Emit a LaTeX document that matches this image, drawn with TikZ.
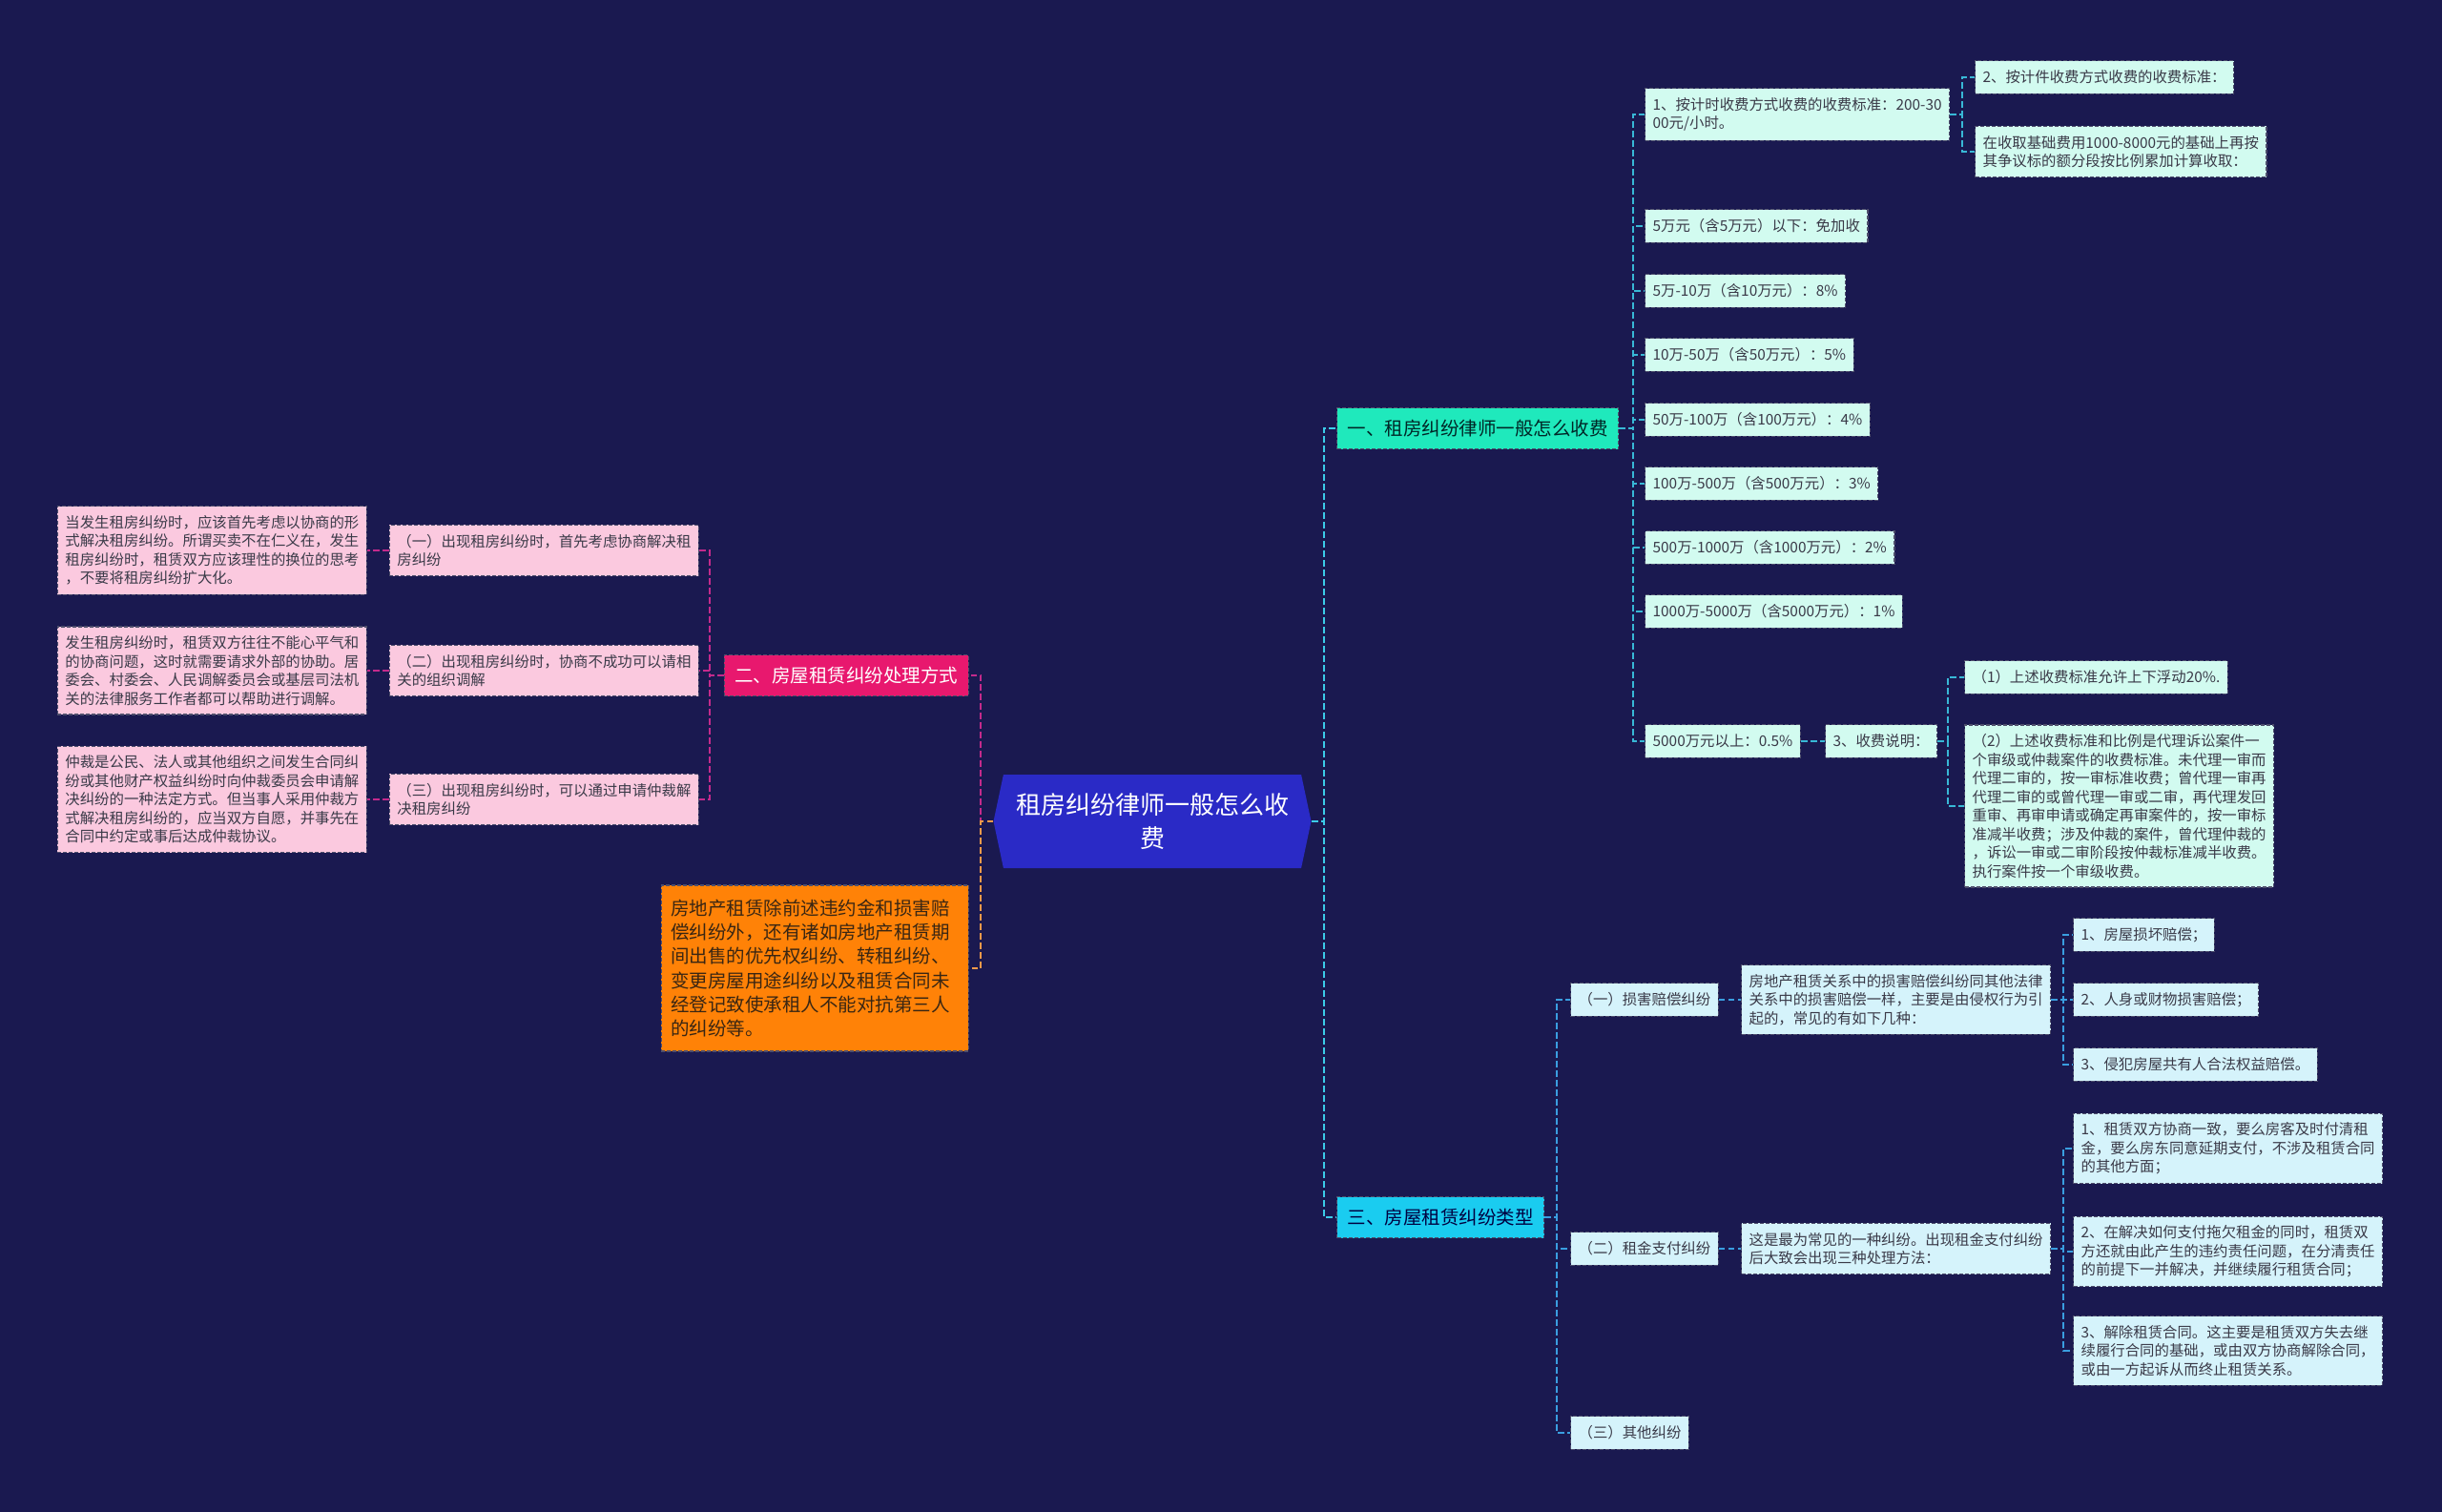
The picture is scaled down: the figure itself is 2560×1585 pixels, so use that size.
\documentclass[tikz,border=0pt]{standalone}
\usepackage{fontspec}
\newfontfamily\cjk{Noto Sans CJK SC}
\usetikzlibrary{shapes.symbols}

\definecolor{bgnavy}{HTML}{1A1950}
\definecolor{rootblue}{HTML}{2A2AC6}
\definecolor{feegreen}{HTML}{1FE9BC}
\definecolor{waypink}{HTML}{E8186E}
\definecolor{kindcyan}{HTML}{1ACCF0}
\definecolor{otherorange}{HTML}{FF8207}
\definecolor{mintfill}{HTML}{D2FBF0}
\definecolor{icefill}{HTML}{D5F3FB}
\definecolor{rosefill}{HTML}{FBC9DF}
\definecolor{leafedge}{HTML}{4E4E6C}
\definecolor{leaftext}{HTML}{3A3A48}
\definecolor{cyanlink}{HTML}{3CCBE8}
\definecolor{teallink}{HTML}{38B8D6}
\definecolor{bluelink}{HTML}{3A9EE0}
\definecolor{pinklink}{HTML}{C42A8C}
\definecolor{orangelink}{HTML}{F59A4A}

\begin{document}
\begin{tikzpicture}[x=0.5pt,y=-0.5pt,
    box/.style={draw=leafedge, dash pattern=on 2pt off 1pt, line width=0.6pt, align=left},
    leaf/.style={box, text=leaftext, font=\cjk\fontsize{7.7}{9.75}\selectfont,
      inner xsep=4pt, inner ysep=4.8pt, minimum height=17.25pt},
    mintleaf/.style={leaf, fill=mintfill, anchor=west},
    iceleaf/.style={leaf, fill=icefill, anchor=west},
    roseleaf/.style={leaf, fill=rosefill, anchor=east},
    branch/.style={box, font=\cjk\fontsize{9.75}{12}\selectfont,
      inner xsep=5.5pt, minimum height=21.5pt},
    link/.style={line width=1.1pt, dash pattern=on 3.3pt off 1.7pt}]

    % Background and page size
    \fill[bgnavy] (0,0) rectangle (2560,1585);

    % Central topic
    \node[shape=signal, signal to=west and east, signal pointer angle=156,
      fill=rootblue, text=white, align=center, minimum width=166.5pt, minimum height=49pt,
      font=\cjk\fontsize{13}{17.5}\selectfont] (root) at (1208,861)
      {租房纠纷律师一般怎么收\\费};

    % Main branches
    \node[branch, fill=feegreen, text=black!70!teal, anchor=west] (fees) at (1401,449) {一、租房纠纷律师一般怎么收费};
    \node[branch, fill=waypink, text=white, anchor=east] (ways) at (1016,708) {二、房屋租赁纠纷处理方式};
    \node[branch, fill=kindcyan, text=black!75!blue, anchor=west] (kinds) at (1401,1276) {三、房屋租赁纠纷类型};
    \node[box, fill=otherorange, text=black!70!brown, anchor=east, text width=151pt,
      inner xsep=5pt, inner ysep=7.5pt,
      font=\cjk\fontsize{9.75}{12.6}\selectfont] (other) at (1016,1015)
      {房地产租赁除前述违约金和损害赔\\偿纠纷外，还有诸如房地产租赁期\\间出售的优先权纠纷、转租纠纷、\\变更房屋用途纠纷以及租赁合同未\\经登记致使承租人不能对抗第三人\\的纠纷等。};

    % Fee levels
    \node[mintleaf] (fee1) at (1724,120) {1、按计时收费方式收费的收费标准：200-30\\00元/小时。};
    \node[mintleaf] (fee2) at (1724,237) {5万元（含5万元）以下：免加收};
    \node[mintleaf] (fee3) at (1724,305) {5万-10万（含10万元）：8\%};
    \node[mintleaf] (fee4) at (1724,372) {10万-50万（含50万元）：5\%};
    \node[mintleaf] (fee5) at (1724,440) {50万-100万（含100万元）：4\%};
    \node[mintleaf] (fee6) at (1724,507) {100万-500万（含500万元）：3\%};
    \node[mintleaf] (fee7) at (1724,574) {500万-1000万（含1000万元）：2\%};
    \node[mintleaf] (fee8) at (1724,641) {1000万-5000万（含5000万元）：1\%};
    \node[mintleaf] (fee9) at (1724,777) {5000万元以上：0.5\%};

    \node[mintleaf] (piece1) at (2070,81) {2、按计件收费方式收费的收费标准：};
    \node[mintleaf] (piece2) at (2070,159) {在收取基础费用1000-8000元的基础上再按\\其争议标的额分段按比例累加计算收取：};

    \node[mintleaf] (remark) at (1913,777) {3、收费说明：};
    \node[mintleaf] (rem1) at (2059,710) {（1）上述收费标准允许上下浮动20\%.};
    \node[mintleaf] (rem2) at (2059,845) {（2）上述收费标准和比例是代理诉讼案件一\\个审级或仲裁案件的收费标准。未代理一审而\\代理二审的，按一审标准收费；曾代理一审再\\代理二审的或曾代理一审或二审，再代理发回\\重审、再审申请或确定再审案件的，按一审标\\准减半收费；涉及仲裁的案件，曾代理仲裁的\\，诉讼一审或二审阶段按仲裁标准减半收费。\\执行案件按一个审级收费。};

    % Ways to settle
    \node[roseleaf] (way1) at (733,577) {（一）出现租房纠纷时，首先考虑协商解决租\\房纠纷};
    \node[roseleaf] (way2) at (733,703) {（二）出现租房纠纷时，协商不成功可以请相\\关的组织调解};
    \node[roseleaf] (way3) at (733,838) {（三）出现租房纠纷时，可以通过申请仲裁解\\决租房纠纷};
    \node[roseleaf] (wayinfo1) at (385,577) {当发生租房纠纷时，应该首先考虑以协商的形\\式解决租房纠纷。所谓买卖不在仁义在，发生\\租房纠纷时，租赁双方应该理性的换位的思考\\，不要将租房纠纷扩大化。};
    \node[roseleaf] (wayinfo2) at (385,703) {发生租房纠纷时，租赁双方往往不能心平气和\\的协商问题，这时就需要请求外部的协助。居\\委会、村委会、人民调解委员会或基层司法机\\关的法律服务工作者都可以帮助进行调解。};
    \node[roseleaf] (wayinfo3) at (385,838) {仲裁是公民、法人或其他组织之间发生合同纠\\纷或其他财产权益纠纷时向仲裁委员会申请解\\决纠纷的一种法定方式。但当事人采用仲裁方\\式解决租房纠纷的，应当双方自愿，并事先在\\合同中约定或事后达成仲裁协议。};

    % Kinds of disputes
    \node[iceleaf] (kind1) at (1646,1048) {（一）损害赔偿纠纷};
    \node[iceleaf] (kind2) at (1646,1309) {（二）租金支付纠纷};
    \node[iceleaf] (kind3) at (1646,1502) {（三）其他纠纷};
    \node[iceleaf] (kindinfo1) at (1825,1048) {房地产租赁关系中的损害赔偿纠纷同其他法律\\关系中的损害赔偿一样，主要是由侵权行为引\\起的，常见的有如下几种：};
    \node[iceleaf] (kindinfo2) at (1825,1309) {这是最为常见的一种纠纷。出现租金支付纠纷\\后大致会出现三种处理方法：};
    \node[iceleaf] (dmg1) at (2173,980) {1、房屋损坏赔偿；};
    \node[iceleaf] (dmg2) at (2173,1048) {2、人身或财物损害赔偿；};
    \node[iceleaf] (dmg3) at (2173,1116) {3、侵犯房屋共有人合法权益赔偿。};
    \node[iceleaf] (rent1) at (2173,1204) {1、租赁双方协商一致，要么房客及时付清租\\金，要么房东同意延期支付，不涉及租赁合同\\的其他方面；};
    \node[iceleaf] (rent2) at (2173,1312) {2、在解决如何支付拖欠租金的同时，租赁双\\方还就由此产生的违约责任问题，在分清责任\\的前提下一并解决，并继续履行租赁合同；};
    \node[iceleaf] (rent3) at (2173,1416) {3、解除租赁合同。这主要是租赁双方失去继\\续履行合同的基础，或由双方协商解除合同，\\或由一方起诉从而终止租赁关系。};

    % Connectors
    \draw[link, cyanlink] (root.east) -- ++(13,0) |- (fees.west);
    \draw[link, cyanlink] (root.east) -- ++(13,0) |- (kinds.west);
    \draw[link, pinklink] (root.west) -- ++(-13,0) |- (ways.east);
    \draw[link, orangelink] (root.west) -- ++(-13,0) |- (other.east);

    \foreach \i in {1,...,9}
      \draw[link, teallink] (fees.east) -- ++(15,0) |- (fee\i.west);
    \foreach \i in {1,2}
      \draw[link, teallink] (fee1.east) -- ++(13,0) |- (piece\i.west);
    \draw[link, teallink] (fee9.east) -- (remark.west);
    \foreach \i in {1,2}
      \draw[link, teallink] (remark.east) -- ++(11,0) |- (rem\i.west);

    \foreach \i in {1,2,3} {
      \draw[link, pinklink] (ways.west) -- ++(-15,0) |- (way\i.east);
      \draw[link, pinklink] (way\i.west) -- (wayinfo\i.east);
    }

    \foreach \i in {1,2,3}
      \draw[link, bluelink] (kinds.east) -- ++(13,0) |- (kind\i.west);
    \draw[link, bluelink] (kind1.east) -- (kindinfo1.west);
    \draw[link, bluelink] (kind2.east) -- (kindinfo2.west);
    \foreach \i in {1,2,3} {
      \draw[link, bluelink] (kindinfo1.east) -- ++(13,0) |- (dmg\i.west);
      \draw[link, bluelink] (kindinfo2.east) -- ++(13,0) |- (rent\i.west);
    }
\end{tikzpicture}
\end{document}
